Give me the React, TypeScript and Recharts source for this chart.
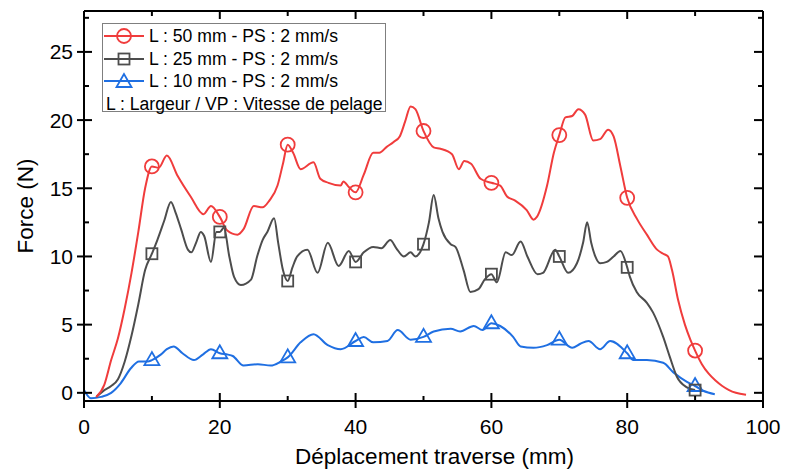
import React from 'react';
import { LineChart, Line, XAxis, YAxis, Legend } from 'recharts';

// Force vs displacement: [x (mm), force (N)]
const l50Points: [number, number][] = [
  [1.8, -0.3], [3, 0.6], [4, 2.4], [5, 4.0], [6, 6.2], [7, 8.8], [8, 11.8], [9, 15.0],
  [10, 16.6], [11, 16.5], [12.2, 17.4], [13.8, 15.9], [15.7, 14.4], [17.6, 13.1], [18.7, 13.7],
  [20, 12.9], [21.1, 11.9], [22.6, 11.6], [23.5, 12.0], [25, 13.7], [26.3, 13.6], [27.3, 14.1],
  [28.5, 15.2], [29.3, 16.8], [30, 18.2], [30.8, 17.6], [31.9, 16.4], [33.8, 16.9], [34.8, 15.7],
  [36, 15.4], [37.8, 15.2], [38.2, 15.5], [39, 15.1], [40, 14.7], [41.2, 16.0], [42.6, 17.6],
  [43.5, 17.6], [44.5, 18.0], [45.6, 18.4], [46.5, 18.8], [47.3, 19.9], [48.1, 21.0], [48.8, 20.8],
  [50, 19.2], [51.5, 18.0], [52.5, 17.9], [54.2, 17.5], [55.2, 16.4], [56, 17.0], [57, 16.8],
  [58.4, 15.7], [60, 15.4], [61.3, 15.2], [62.3, 14.4], [63.5, 14.1], [65.2, 13.4], [66.2, 12.7],
  [66.7, 12.9], [68.2, 15.2], [69.2, 17.6], [70, 18.9], [70.9, 20.2], [71.9, 20.3], [72.8, 20.8],
  [73.8, 20.4], [75, 18.5], [76, 18.6], [77.2, 19.3], [78, 18.8], [79, 16.6], [80, 14.3],
  [81.5, 12.7], [82.9, 11.6], [84.4, 10.5], [85.3, 10.2], [86, 10.0], [86.6, 9.0], [87.5, 6.8],
  [88.5, 5.0], [89.3, 3.9], [90, 3.1], [91, 2.1], [92, 1.4], [93, 0.9], [94, 0.5], [95, 0.2],
  [96, 0.0], [97.5, -0.15],
];

const l25Points: [number, number][] = [
  [1.8, -0.3], [3, 0.2], [4, 0.5], [5, 1.0], [6, 2.3], [7, 4.2], [8, 6.5], [9, 9.0],
  [10, 10.2], [10.8, 11.2], [11.8, 12.6], [12.8, 14.0], [13.5, 13.2], [14.3, 12.0], [15.3, 10.5],
  [15.8, 10.3], [16.5, 11.0], [17.2, 11.8], [17.7, 11.5], [18.7, 9.6], [19.5, 11.8], [20, 11.8],
  [20.6, 12.1], [21.4, 10.0], [22.1, 8.5], [23.1, 7.9], [24.6, 8.3], [25.5, 10.0], [26.3, 11.2],
  [27, 11.8], [28, 12.8], [28.6, 11.0], [29.3, 9.0], [30, 8.2], [30.7, 9.2], [31.4, 10.0],
  [32.9, 10.5], [34.4, 8.8], [35.9, 11.0], [37.5, 9.3], [39, 10.4], [40, 9.6], [41.2, 10.3],
  [42.6, 10.7], [43.8, 10.6], [45.1, 11.2], [46, 10.6], [47.1, 10.0], [48.1, 10.3], [48.8, 10.0],
  [50, 10.9], [50.8, 12.5], [51.5, 14.5], [52.2, 12.8], [52.8, 11.8], [54, 10.9], [54.7, 10.7],
  [55.9, 9.0], [56.9, 7.4], [58.1, 7.6], [59, 8.3], [60, 8.7], [60.8, 8.1], [62.1, 10.3],
  [63, 10.1], [64.3, 11.1], [65.3, 10.0], [66.8, 8.7], [67.6, 8.8], [69.4, 10.5], [70, 10.0],
  [71.3, 8.8], [72.6, 9.5], [73.5, 11.0], [74.1, 12.5], [74.7, 11.0], [75.3, 10.0], [76, 9.5],
  [77, 9.6], [78, 10.0], [79, 10.4], [80, 9.2], [80.4, 8.5], [81.4, 7.4], [82.9, 6.6],
  [83.8, 5.9], [85.3, 4.1], [86.3, 2.6], [87.3, 1.2], [88.8, 0.4], [90, 0.2],
];

const l10Points: [number, number][] = [
  [0, 0.2], [1, -0.4], [2.5, -0.3], [4, 0.0], [5.4, 0.7], [6.9, 1.8], [8.1, 2.3], [9.4, 2.3],
  [10, 2.4], [11.3, 2.8], [12.2, 3.2], [13.2, 3.4], [14.5, 2.9], [16.2, 2.4], [17.5, 2.8],
  [18.7, 3.2], [20, 2.9], [21.2, 2.8], [21.9, 2.7], [23.5, 2.0], [25.6, 2.1], [27.5, 2.0],
  [29, 2.3], [30, 2.6], [31.9, 3.7], [33.8, 4.3], [35.9, 3.5], [37.8, 3.2], [40, 3.8],
  [41.2, 4.1], [42.6, 3.7], [44.7, 3.8], [46.2, 4.6], [48.1, 3.9], [50, 4.1], [51.5, 4.5],
  [54, 4.7], [55.4, 4.5], [57.4, 4.9], [58.7, 4.6], [60, 5.1], [61.3, 4.9], [63.2, 4.1],
  [64.3, 3.4], [66.2, 3.3], [68.2, 3.5], [70, 3.9], [71.9, 3.3], [73.1, 3.6], [74.3, 3.8],
  [76, 3.2], [77.5, 3.8], [80, 2.9], [80.9, 2.4], [82.9, 2.4], [85.3, 2.2], [86.8, 1.5],
  [88.8, 0.8], [90, 0.5], [91.2, 0.15], [92.9, -0.1],
];

const xTicks = [0, 10, 20, 30, 40, 50, 60, 70, 80, 90, 100];
const yTicks = [0, 2.5, 5, 7.5, 10, 12.5, 15, 17.5, 20, 22.5, 25, 27.5];

const seriesNames = ['L : 50 mm - PS : 2 mm/s', 'L : 25 mm - PS : 2 mm/s', 'L : 10 mm - PS : 2 mm/s'];
const legendNote = 'L : Largeur / VP : Vitesse de pelage';

const RED = '#f03c3c';
const GRAY = '#4d4d4d';
const BLUE = '#1f6fe2';
const FONT = '"Liberation Sans", Arial, sans-serif';

const toRows = (pts: [number, number][]) => pts.map(([x, y]) => ({ x, y }));
const isMarker = (x: number) => x > 0 && x % 10 === 0;

const Circle = ({ cx, cy, color }: any) => (
  <circle cx={cx} cy={cy} r={7} fill="none" stroke={color} strokeWidth={1.8} />
);
const Square = ({ cx, cy, color }: any) => (
  <rect x={cx - 5.5} y={cy - 5.5} width={11} height={11} fill="none" stroke={color} strokeWidth={1.8} />
);
const Triangle = ({ cx, cy, color }: any) => (
  <polygon
    points={`${cx},${cy - 8} ${cx - 7.5},${cy + 5} ${cx + 7.5},${cy + 5}`}
    fill="none"
    stroke={color}
    strokeWidth={1.8}
  />
);

const makeDot = (Shape: any, color: string) => (props: any) => {
  const { cx, cy, payload, index } = props;
  if (!isMarker(payload.x)) return <g key={index} />;
  return (
    <g key={index}>
      <Shape cx={cx} cy={cy} color={color} />
    </g>
  );
};

// tick renderers: tickSize/tickMargin are 0 so (x, y) sits on the axis line
const BottomTick = ({ x, y, payload }: any) => {
  const major = payload.value % 20 === 0;
  return (
    <g>
      <line x1={x} x2={x} y1={major ? y - 8 : y - 5} y2={major ? y + 7 : y} stroke="#000" strokeWidth={2} />
      {major && (
        <text x={x} y={y + 33} textAnchor="middle" fontSize={21} fontFamily={FONT} fill="#000">
          {payload.value}
        </text>
      )}
    </g>
  );
};

const TopTick = ({ x, y, payload }: any) => {
  const major = payload.value % 20 === 0;
  return <line x1={x} x2={x} y1={y} y2={y + (major ? 8 : 5)} stroke="#000" strokeWidth={2} />;
};

const LeftTick = ({ x, y, payload }: any) => {
  const major = payload.value % 5 === 0;
  return (
    <g>
      <line x1={major ? x - 7 : x} x2={x + (major ? 8 : 5)} y1={y} y2={y} stroke="#000" strokeWidth={2} />
      {major && (
        <text x={x - 11} y={y + 7.5} textAnchor="end" fontSize={21} fontFamily={FONT} fill="#000">
          {payload.value}
        </text>
      )}
    </g>
  );
};

const RightTick = ({ x, y, payload }: any) => {
  const major = payload.value % 5 === 0;
  return <line x1={x - (major ? 9 : 5)} x2={x} y1={y} y2={y} stroke="#000" strokeWidth={2} />;
};

const LegendIcon = ({ kind, color }: { kind: number; color: string }) => {
  const Shape = [Circle, Square, Triangle][kind];
  return (
    <svg width={42} height={20} style={{ display: 'block' }}>
      <line x1={1} x2={41} y1={10} y2={10} stroke={color} strokeWidth={2} />
      <Shape cx={21} cy={kind === 2 ? 11 : 10} color={color} />
    </svg>
  );
};

const LegendBox = () => {
  const colors = [RED, GRAY, BLUE];
  return (
    <div
      style={{
        border: '1px solid #7f7f7f',
        background: '#fff',
        width: 284,
        height: 89,
        boxSizing: 'border-box',
        padding: '1px 0 0 0',
        fontFamily: FONT,
        fontSize: 17.6,
        color: '#000',
        lineHeight: '22px',
      }}
    >
      {seriesNames.map((name, i) => (
        <div key={name} style={{ display: 'flex', alignItems: 'center', height: 22.5 }}>
          <LegendIcon kind={i} color={colors[i]} />
          <span style={{ marginLeft: 4 }}>{name}</span>
        </div>
      ))}
      <div style={{ paddingLeft: 3, height: 20 }}>{legendNote}</div>
    </div>
  );
};

export default function App() {
  return (
    <div style={{ position: 'absolute', left: 0, top: 0, background: '#fff' }}>
      <LineChart width={785} height={470} margin={{ top: 9, right: 20, bottom: 0, left: 0 }}>
        <XAxis
          xAxisId="bottom"
          dataKey="x"
          type="number"
          domain={[0, 100]}
          ticks={xTicks}
          interval={0}
          height={69}
          tickSize={0}
          tickMargin={0}
          tickLine={false}
          axisLine={{ stroke: '#000', strokeWidth: 2 }}
          tick={BottomTick}
          allowDataOverflow
          label={{
            value: 'Déplacement traverse (mm)',
            position: 'insideBottom',
            offset: 6,
            dx: 11,
            style: { fontSize: 22.5, fontFamily: FONT, fill: '#000' },
          }}
        />
        <XAxis
          xAxisId="top"
          orientation="top"
          dataKey="x"
          type="number"
          domain={[0, 100]}
          ticks={xTicks}
          interval={0}
          height={2}
          tickSize={0}
          tickMargin={0}
          tickLine={false}
          axisLine={{ stroke: '#000', strokeWidth: 2 }}
          tick={TopTick}
          allowDataOverflow
        />
        <YAxis
          yAxisId="left"
          type="number"
          domain={[-0.6, 28]}
          ticks={yTicks}
          interval={0}
          width={84}
          tickSize={0}
          tickMargin={0}
          tickLine={false}
          axisLine={{ stroke: '#000', strokeWidth: 2 }}
          tick={LeftTick}
          allowDataOverflow
          label={{
            value: 'Force (N)',
            angle: -90,
            position: 'insideLeft',
            offset: 25,
            style: { textAnchor: 'middle', fontSize: 22.5, fontFamily: FONT, fill: '#000' },
          }}
        />
        <YAxis
          yAxisId="right"
          orientation="right"
          type="number"
          domain={[-0.6, 28]}
          ticks={yTicks}
          interval={0}
          width={2}
          tickSize={0}
          tickMargin={0}
          tickLine={false}
          axisLine={{ stroke: '#000', strokeWidth: 2 }}
          tick={RightTick}
          allowDataOverflow
        />
        <Legend
          layout="vertical"
          align="center"
          verticalAlign="middle"
          wrapperStyle={{ left: 102, top: 23, width: 284, height: 89 }}
          content={LegendBox}
        />
        <Line
          xAxisId="bottom"
          yAxisId="left"
          data={toRows(l10Points)}
          dataKey="y"
          name={seriesNames[2]}
          type="monotone"
          stroke={BLUE}
          strokeWidth={2}
          dot={makeDot(Triangle, BLUE)}
          activeDot={false}
          isAnimationActive={false}
        />
        <Line
          xAxisId="bottom"
          yAxisId="left"
          data={toRows(l25Points)}
          dataKey="y"
          name={seriesNames[1]}
          type="monotone"
          stroke={GRAY}
          strokeWidth={2}
          dot={makeDot(Square, GRAY)}
          activeDot={false}
          isAnimationActive={false}
        />
        <Line
          xAxisId="bottom"
          yAxisId="left"
          data={toRows(l50Points)}
          dataKey="y"
          name={seriesNames[0]}
          type="monotone"
          stroke={RED}
          strokeWidth={2}
          dot={makeDot(Circle, RED)}
          activeDot={false}
          isAnimationActive={false}
        />
      </LineChart>
    </div>
  );
}
